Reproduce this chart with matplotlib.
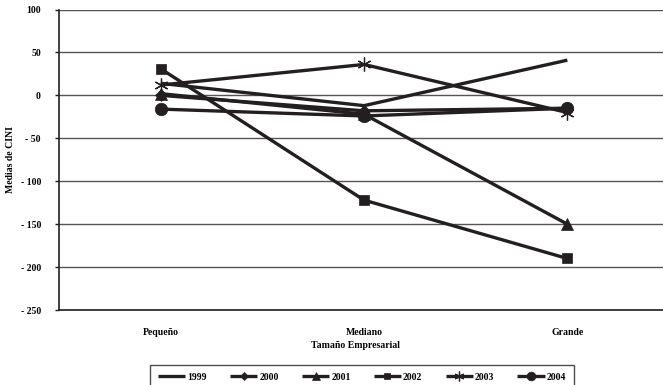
import numpy as np
import matplotlib.pyplot as plt

plt.rcParams["font.family"] = ["Liberation Serif", "DejaVu Serif"]
plt.rcParams["font.weight"] = "bold"

sizes = ["Pequeño", "Mediano", "Grande"]
years = ["1999", "2000", "2001", "2002", "2003", "2004"]
cini_1999 = [14, -12, 41]
cini_2000 = [0, -18, -15]
cini_2001 = [2, -22, -150]
cini_2002 = [31, -122, -190]
cini_2003 = [12, 36, -20]
cini_2004 = [-16, -24, -15]
yticks = [100, 50, 0, -50, -100, -150, -200, -250]

series = [cini_1999, cini_2000, cini_2001, cini_2002, cini_2003, cini_2004]
markers = [None, "D", "^", "s", (6, 2, 0), "o"]
msizes = [0, 6, 8, 7, 10, 9]

ink = "#231f20"

fig = plt.figure(figsize=(6.63, 3.85), dpi=100)
ax = fig.add_axes([59 / 663, 1 - 310 / 385, 610 / 663, 300.5 / 385])

x = np.arange(len(sizes))
for name, vals, m, ms in zip(years, series, markers, msizes):
    ax.plot(x, vals, color=ink, lw=2.4, marker=m, markersize=ms,
            markeredgewidth=0.9 if m == (6, 2, 0) else 0.5,
            markeredgecolor=ink, markerfacecolor=ink, label=name,
            solid_capstyle="butt")

ax.set_xlim(-0.5, 2.5)
ax.set_ylim(-250, 100)
ax.set_yticks(yticks)
ax.set_yticklabels([str(v).replace("-", "- ") for v in yticks], fontsize=7)
ax.set_xticks(x)
ax.set_xticklabels(sizes, fontsize=7)
ax.tick_params(axis="x", length=0, pad=13)
ax.tick_params(axis="y", length=3, width=1, color=ink, pad=10)
ax.grid(axis="y", color="#555555", lw=1)
ax.set_axisbelow(True)
for side in ["top", "right"]:
    ax.spines[side].set_visible(False)
for side in ["left", "bottom"]:
    ax.spines[side].set_color(ink)
    ax.spines[side].set_linewidth(1.2)

fig.text(11 / 663, 1 - 160 / 385, "Medias de CINI", fontsize=7,
         rotation=90, ha="center", va="center")
fig.text(355 / 663, 1 - 345 / 385, "Tamaño Empresarial", fontsize=7,
         ha="center", va="center")

leg = fig.legend(loc="upper center", bbox_to_anchor=(362 / 663, 1 - 360 / 385),
                 ncol=6, fontsize=7, frameon=True, fancybox=False,
                 handlelength=2.8, columnspacing=2.4, handletextpad=0.2,
                 borderpad=0.8, markerscale=0.7)
leg.get_frame().set_edgecolor(ink)
leg.get_frame().set_linewidth(1)

fig.savefig("out.png", dpi=100)
